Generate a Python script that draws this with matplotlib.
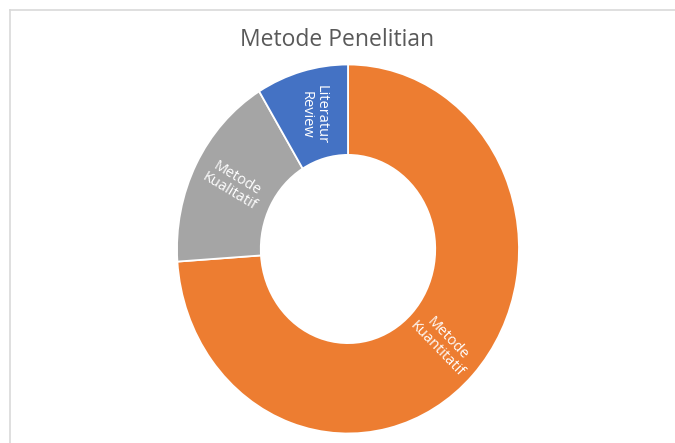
import numpy as np
import matplotlib.pyplot as plt
from matplotlib.lines import Line2D

# Data
labels = ['Metode\nKuantitatif', 'Metode\nKualitatif', 'Literatur\nReview']
values = [17, 4, 2]
colors = ['#ED7D31', '#A5A5A5', '#4472C4']
label_rot = [-46, -31, -90]

plt.rcParams['font.family'] = ['Open Sans', 'DejaVu Sans']

W, H = 675, 443
fig = plt.figure(figsize=(W / 100, H / 100), dpi=100)

# donut geometry in pixels (center, radii)
cx, cy, rx, ry = 348, 249, 171, 184.5
ax = fig.add_axes([(cx - rx) / W, (H - cy - ry) / H, 2 * rx / W, 2 * ry / H])

ring = 0.49
wedges, _ = ax.pie(values, colors=colors, startangle=90, counterclock=False,
                   radius=1.0,
                   wedgeprops=dict(width=ring, edgecolor='white', linewidth=1.3))
ax.set_aspect('auto')
ax.set_xlim(-1, 1)
ax.set_ylim(-1, 1)
ax.axis('off')

# labels inside wedges
total = float(sum(values))
cum = np.cumsum([0] + values[:-1]) / total
r_lab = 1 - ring / 2
for lab, v, c0, rot in zip(labels, values, cum, label_rot):
    mid = np.deg2rad(90 - 360 * (c0 + v / total / 2))
    ax.text(r_lab * np.cos(mid), r_lab * np.sin(mid), lab, color='white',
            fontsize=10.5, ha='center', va='center', rotation=rot,
            rotation_mode='anchor', linespacing=1.0)

fig.text(0.5, 1 - 40 / H, 'Metode Penelitian', ha='center', va='center',
         fontsize=16.5, color='#595959')

# chart area border (top and left visible)
fig.add_artist(Line2D([10 / W, 1], [1 - 9.5 / H] * 2, color='#D9D9D9', lw=1.2))
fig.add_artist(Line2D([10 / W] * 2, [0, 1 - 9.5 / H], color='#D9D9D9', lw=1.2))

fig.savefig('out.png', dpi=100, facecolor='white')
